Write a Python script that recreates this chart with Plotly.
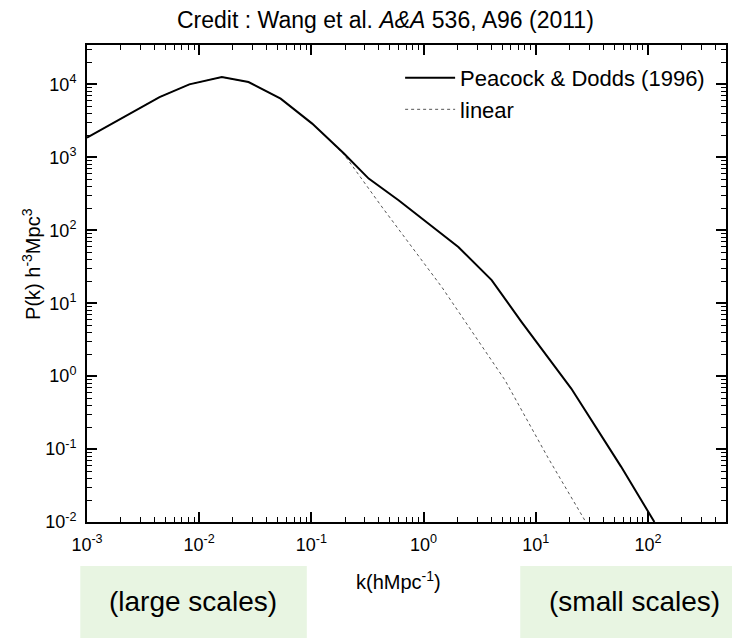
import plotly.graph_objects as go

# ---- data ----
k_nonlinear = [0.001, 0.00248, 0.00443, 0.00817, 0.0159, 0.0275, 0.0532, 0.1016,
               0.195, 0.324, 0.598, 2.04, 4.04, 7.45, 20.7, 57.5, 114]
p_nonlinear = [1860, 4090, 6700, 10000, 12590, 10770, 6370, 2900,
               1125, 511, 258, 59, 20.7, 5.55, 0.676, 0.0575, 0.01]

k_linear = [0.001, 0.00248, 0.00443, 0.00817, 0.0159, 0.0275, 0.0532, 0.1016,
            0.195, 0.426, 1.45, 5.31, 12.85, 27.9]
p_linear = [1860, 4090, 6700, 10000, 12590, 10770, 6370, 2900,
            1100, 208, 16.7, 0.881, 0.076, 0.01]

x_tick_vals = [0.001, 0.01, 0.1, 1, 10, 100]
x_tick_text = ["10<sup>-3</sup>", "10<sup>-2</sup>", "10<sup>-1</sup>",
               "10<sup>0</sup>", "10<sup>1</sup>", "10<sup>2</sup>"]
y_tick_vals = [0.01, 0.1, 1, 10, 100, 1000, 10000]
y_tick_text = ["10<sup>-2</sup>", "10<sup>-1</sup>", "10<sup>0</sup>",
               "10<sup>1</sup>", "10<sup>2</sup>", "10<sup>3</sup>", "10<sup>4</sup>"]
minor_digits = [2, 3, 4, 5, 6, 7, 8, 9]
x_decades = [0.001, 0.01, 0.1, 1, 10, 100]
y_decades = [0.01, 0.1, 1, 10, 100, 1000, 10000]

name_nonlinear = "Peacock & Dodds (1996)"
name_linear = "linear"
title_text = "Credit : Wang et al. <i>A&amp;A</i> 536, A96 (2011)"
x_title = "k(hMpc<sup>-1</sup>)"
y_title = "P(k) h<sup>-3</sup>Mpc<sup>3</sup>"
label_large = "(large scales)"
label_small = "(small scales)"

FONT = "Liberation Sans, Arial, Helvetica, sans-serif"

x_minor = [d * m for d in x_decades for m in minor_digits]
y_minor = [d * m for d in y_decades for m in minor_digits]

fig = go.Figure()
fig.add_trace(go.Scatter(
    x=k_linear, y=p_linear, mode="lines", name=name_linear,
    line=dict(color="#555555", width=1, dash="3px,3px"), legendrank=2,
))
fig.add_trace(go.Scatter(
    x=k_nonlinear, y=p_nonlinear, mode="lines", name=name_nonlinear,
    line=dict(color="black", width=2), legendrank=1,
))

axis_common = dict(
    type="log", tickmode="array",
    showline=True, linecolor="black", linewidth=2, mirror="allticks",
    ticks="inside", ticklen=10, tickwidth=1.5, tickcolor="black",
    showgrid=False, zeroline=False,
    tickfont=dict(family=FONT, size=18, color="black"),
)

fig.update_xaxes(range=[-3, 2.695], tickvals=x_tick_vals, ticktext=x_tick_text,
                 ticklabelstandoff=5,
                 minor=dict(tickmode="array", tickvals=x_minor, ticks="inside",
                            ticklen=5, tickwidth=1, tickcolor="black", showgrid=False),
                 **axis_common)
fig.update_yaxes(range=[-2, 4.54], tickvals=y_tick_vals, ticktext=y_tick_text,
                 ticklabelstandoff=5,
                 minor=dict(tickmode="array", tickvals=y_minor, ticks="inside",
                            ticklen=5, tickwidth=1, tickcolor="black", showgrid=False),
                 **axis_common)

shapes = [
    dict(type="rect", xref="paper", yref="paper", x0=-0.0105, x1=0.344,
         y0=-0.243, y1=-0.0922, fillcolor="#e8f5e2", line=dict(width=0),
         layer="below"),
    dict(type="rect", xref="paper", yref="paper", x0=0.678, x1=1.01,
         y0=-0.243, y1=-0.0922, fillcolor="#e8f5e2", line=dict(width=0),
         layer="below"),
]

annotations = [
    dict(text=title_text, xref="paper", yref="paper", x=0.4676, y=1.0518,
         xanchor="center", yanchor="middle", showarrow=False,
         font=dict(family=FONT, size=23, color="black")),
    dict(text=x_title, xref="paper", yref="paper", x=0.488, y=-0.122,
         xanchor="center", yanchor="middle", showarrow=False,
         font=dict(family=FONT, size=20, color="black")),
    dict(text=y_title, xref="paper", yref="paper", x=-0.088, y=0.5405,
         xanchor="center", yanchor="middle", showarrow=False, textangle=-90,
         font=dict(family=FONT, size=20, color="black")),
    dict(text=label_large, xref="paper", yref="paper", x=0.1665, y=-0.167,
         xanchor="center", yanchor="middle", showarrow=False,
         font=dict(family=FONT, size=28, color="black")),
    dict(text=label_small, xref="paper", yref="paper", x=0.857, y=-0.167,
         xanchor="center", yanchor="middle", showarrow=False,
         font=dict(family=FONT, size=28, color="black")),
]

fig.update_layout(
    width=732, height=638,
    margin=dict(l=87, r=4, t=45, b=116, pad=0),
    paper_bgcolor="white", plot_bgcolor="white",
    showlegend=True,
    legend=dict(x=0.49, y=0.975, xanchor="left", yanchor="top",
                bgcolor="rgba(0,0,0,0)", borderwidth=0, itemwidth=50,
                font=dict(family=FONT, size=22, color="black"),
                tracegroupgap=0),
    shapes=shapes,
    annotations=annotations,
    font=dict(family=FONT, color="black"),
)

fig.write_html("out.html")
